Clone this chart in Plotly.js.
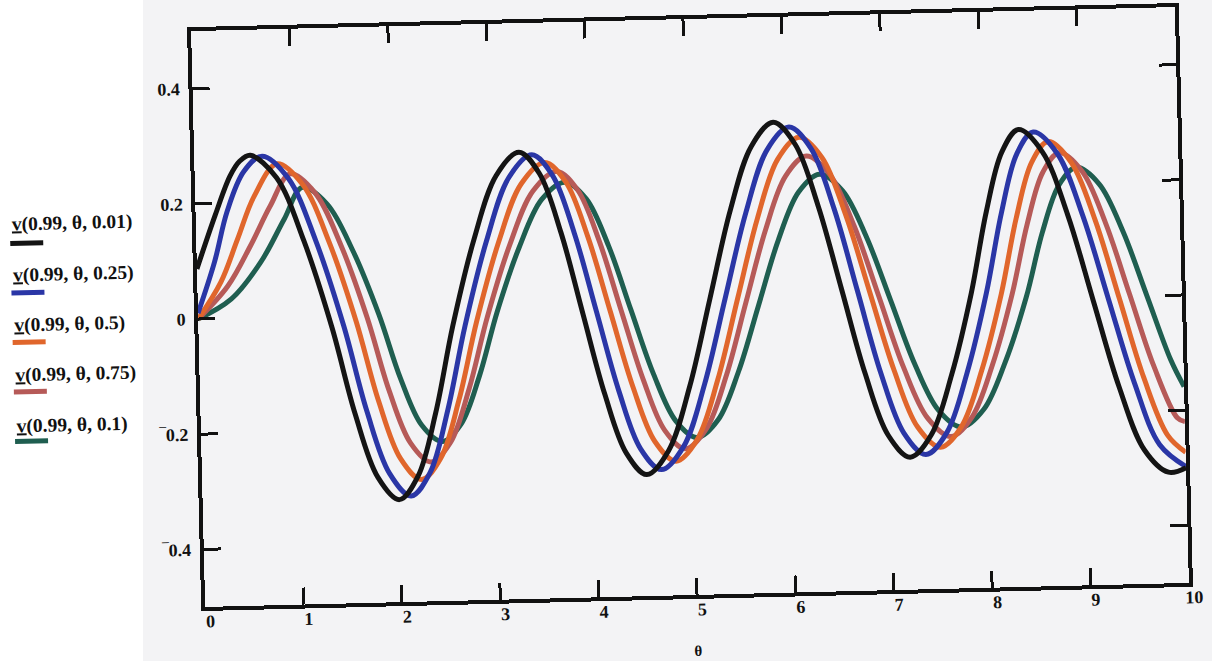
<!DOCTYPE html>
<html>
<head>
<meta charset="utf-8">
<script src="https://cdn.plot.ly/plotly-3.0.1.min.js"></script>
<style>
  html, body { margin: 0; padding: 0; width: 1212px; height: 661px; overflow: hidden;
    background: linear-gradient(to right, #ffffff 0, #ffffff 143px, #f3f3f5 143px, #f3f3f5 100%); }
  #chart { width: 1212px; height: 661px; transform: rotate(-1.4deg); transform-origin: 690px 307px; }
</style>
</head>
<body>
<div id="chart"></div>
<script>
// v(0.99, θ, t) sampled along θ for five values of t
const thetaT001 = [0, 0.2, 0.36, 0.46, 0.57, 0.832, 1.094, 1.357, 1.571, 1.786, 2.0, 2.195, 2.39, 2.585, 2.823, 3.062, 3.30, 3.503, 3.707, 3.91, 4.113, 4.317, 4.52, 4.748, 4.977, 5.205, 5.433, 5.662, 5.89, 6.108, 6.327, 6.545, 6.763, 6.982, 7.20, 7.42, 7.641, 7.861, 8.034, 8.207, 8.38, 8.62, 8.86, 9.10, 9.34, 9.58, 9.82, 10];
const vT001 = [0.087, 0.18, 0.247, 0.272, 0.282, 0.242, 0.131, -0.02, -0.171, -0.282, -0.322, -0.282, -0.173, -0.023, 0.127, 0.236, 0.276, 0.238, 0.135, -0.007, -0.148, -0.251, -0.289, -0.248, -0.138, 0.014, 0.166, 0.276, 0.317, 0.278, 0.170, 0.024, -0.123, -0.231, -0.270, -0.232, -0.129, 0.012, 0.153, 0.256, 0.294, 0.254, 0.144, -0.007, -0.157, -0.267, -0.307, -0.30];

const thetaT025 = [0, 0.18, 0.32, 0.50, 0.69, 0.952, 1.214, 1.477, 1.691, 1.906, 2.12, 2.317, 2.513, 2.710, 2.950, 3.190, 3.43, 3.637, 3.843, 4.05, 4.257, 4.463, 4.67, 4.90, 5.13, 5.36, 5.59, 5.82, 6.05, 6.268, 6.487, 6.705, 6.923, 7.142, 7.36, 7.578, 7.797, 8.015, 8.187, 8.358, 8.53, 8.772, 9.013, 9.255, 9.497, 9.738, 10];
const vT025 = [0.01, 0.098, 0.185, 0.254, 0.28, 0.240, 0.131, -0.018, -0.167, -0.276, -0.316, -0.277, -0.169, -0.023, 0.124, 0.232, 0.271, 0.234, 0.133, -0.005, -0.143, -0.244, -0.281, -0.242, -0.134, 0.014, 0.161, 0.269, 0.308, 0.270, 0.165, 0.021, -0.123, -0.228, -0.266, -0.229, -0.127, 0.012, 0.150, 0.252, 0.289, 0.250, 0.142, -0.005, -0.151, -0.259, -0.298];

const thetaT05 = [0, 0.24, 0.42, 0.60, 0.84, 1.095, 1.350, 1.605, 1.813, 2.022, 2.23, 2.430, 2.629, 2.829, 3.072, 3.316, 3.56, 3.77, 3.98, 4.19, 4.40, 4.61, 4.82, 5.042, 5.263, 5.485, 5.707, 5.928, 6.15, 6.377, 6.603, 6.83, 7.057, 7.283, 7.51, 7.728, 7.947, 8.165, 8.337, 8.508, 8.68, 8.908, 9.137, 9.365, 9.593, 9.822, 10];
const vT05 = [0, 0.063, 0.137, 0.211, 0.266, 0.229, 0.128, -0.011, -0.150, -0.251, -0.288, -0.252, -0.152, -0.016, 0.121, 0.221, 0.257, 0.222, 0.126, -0.005, -0.136, -0.232, -0.267, -0.230, -0.128, 0.012, 0.151, 0.253, 0.29, 0.254, 0.154, 0.018, -0.118, -0.218, -0.254, -0.219, -0.123, 0.009, 0.141, 0.237, 0.272, 0.235, 0.134, -0.004, -0.142, -0.243, -0.273];

const thetaT075 = [0, 0.31, 0.55, 0.76, 0.97, 1.219, 1.469, 1.718, 1.922, 2.126, 2.33, 2.533, 2.735, 2.938, 3.185, 3.433, 3.68, 3.887, 4.093, 4.30, 4.507, 4.713, 4.92, 5.137, 5.353, 5.57, 5.787, 6.003, 6.22, 6.453, 6.687, 6.92, 7.153, 7.387, 7.62, 7.838, 8.057, 8.275, 8.447, 8.618, 8.79, 9.017, 9.243, 9.47, 9.697, 9.923, 10];
const vT075 = [0, 0.056, 0.125, 0.193, 0.248, 0.214, 0.122, -0.005, -0.132, -0.224, -0.258, -0.225, -0.133, -0.009, 0.116, 0.208, 0.241, 0.208, 0.119, -0.003, -0.124, -0.213, -0.246, -0.212, -0.120, 0.006, 0.131, 0.223, 0.257, 0.224, 0.134, 0.011, -0.113, -0.203, -0.236, -0.203, -0.114, 0.008, 0.130, 0.219, 0.252, 0.219, 0.128, 0.003, -0.122, -0.213, -0.22];

const thetaT1 = [0, 0.34, 0.65, 0.90, 1.09, 1.339, 1.589, 1.838, 2.042, 2.246, 2.45, 2.647, 2.843, 3.040, 3.280, 3.520, 3.76, 3.973, 4.187, 4.40, 4.613, 4.827, 5.04, 5.258, 5.477, 5.695, 5.913, 6.132, 6.35, 6.58, 6.81, 7.04, 7.27, 7.50, 7.73, 7.96, 8.189, 8.419, 8.599, 8.779, 8.96, 9.188, 9.417, 9.645, 9.873, 10];
const vT1 = [0, 0.033, 0.096, 0.17, 0.224, 0.194, 0.112, 0, -0.112, -0.194, -0.223, -0.193, -0.111, 0, 0.111, 0.193, 0.222, 0.192, 0.110, -0.003, -0.115, -0.197, -0.227, -0.197, -0.114, -0.001, 0.112, 0.195, 0.225, 0.195, 0.114, 0.003, -0.109, -0.190, -0.220, -0.190, -0.109, 0.003, 0.115, 0.196, 0.226, 0.196, 0.113, 0, -0.113, -0.159];

const seriesNames = ['v(0.99, θ, 0.01)', 'v(0.99, θ, 0.25)', 'v(0.99, θ, 0.5)', 'v(0.99, θ, 0.75)', 'v(0.99, θ, 0.1)'];
const seriesX = [thetaT001, thetaT025, thetaT05, thetaT075, thetaT1];
const seriesY = [vT001, vT025, vT05, vT075, vT1];
const seriesColors = ['#141414', '#2a36a6', '#e0662c', '#b65a58', '#1f5e50'];

const yTickVals = [-0.4, -0.2, 0, 0.2, 0.4];
const yTickText = ['\u203E0.4', '\u203E0.2', '0', '0.2', '0.4'];
const xTickVals = [0, 1, 2, 3, 4, 5, 6, 7, 8, 9, 10];
const xTickText = ['0', '1', '2', '3', '4', '5', '6', '7', '8', '9', '10'];

// plot box in pixels
const M = { l: 198, r: 30, t: 19, b: 66 };
const PW = 1212 - M.l - M.r, PH = 661 - M.t - M.b;
const px = v => (v - M.l) / PW;
const py = v => (661 - M.b - v) / PH;

// draw the first series last so it sits on top
const traces = [];
for (let i = seriesX.length - 1; i >= 0; i--) {
  traces.push({
    type: 'scatter', mode: 'lines', name: seriesNames[i],
    x: seriesX[i], y: seriesY[i],
    line: { color: seriesColors[i], width: 5, shape: 'spline', smoothing: 1.0 },
    hoverinfo: 'skip'
  });
}

// legend block: label text with a short colour sample underneath
const annotations = [];
const shapes = [];
seriesNames.forEach((name, i) => {
  const ty = 208 + 50.5 * i;
  const ly = 227 + 49.5 * i;
  annotations.push({
    xref: 'paper', yref: 'paper', x: px(12), y: py(ty), xanchor: 'left', yanchor: 'middle',
    text: '<b><u>v</u>' + name.slice(1) + '</b>', showarrow: false,
    font: { family: 'Liberation Serif', size: 19.5, color: '#111' }
  });
  shapes.push({
    type: 'line', xref: 'paper', yref: 'paper', x0: px(12), x1: px(45), y0: py(ly), y1: py(ly),
    line: { color: seriesColors[i], width: 5 }
  });
});

const bold = arr => arr.map(t => '<b>' + t + '</b>');

const axisCommon = {
  showgrid: false, zeroline: false, showline: true, linecolor: '#111', linewidth: 4,
  ticks: 'inside', ticklen: 17, tickwidth: 3, tickcolor: '#111', mirror: 'ticks',
  tickfont: { family: 'Liberation Serif', size: 18, color: '#111' }
};

const layout = {
  width: 1212, height: 661,
  margin: M,
  paper_bgcolor: 'rgba(0,0,0,0)', plot_bgcolor: 'rgba(0,0,0,0)',
  showlegend: false,
  xaxis: Object.assign({}, axisCommon, {
    range: [0, 10], tickvals: xTickVals, ticktext: bold(xTickText),
    ticklabelstandoff: -5, ticklabelshift: 5,
    title: { text: '<b>θ</b>', standoff: 28, font: { family: 'Liberation Serif', size: 15, color: '#111' } }
  }),
  yaxis: Object.assign({}, axisCommon, {
    range: [-0.5, 0.5], tickvals: yTickVals, ticktext: bold(yTickText), ticklabelstandoff: 5
  }),
  annotations: annotations,
  shapes: shapes,
  font: { family: 'Liberation Serif', color: '#111' }
};

Plotly.newPlot('chart', traces, layout, { staticPlot: true, displayModeBar: false });
</script>
</body>
</html>
